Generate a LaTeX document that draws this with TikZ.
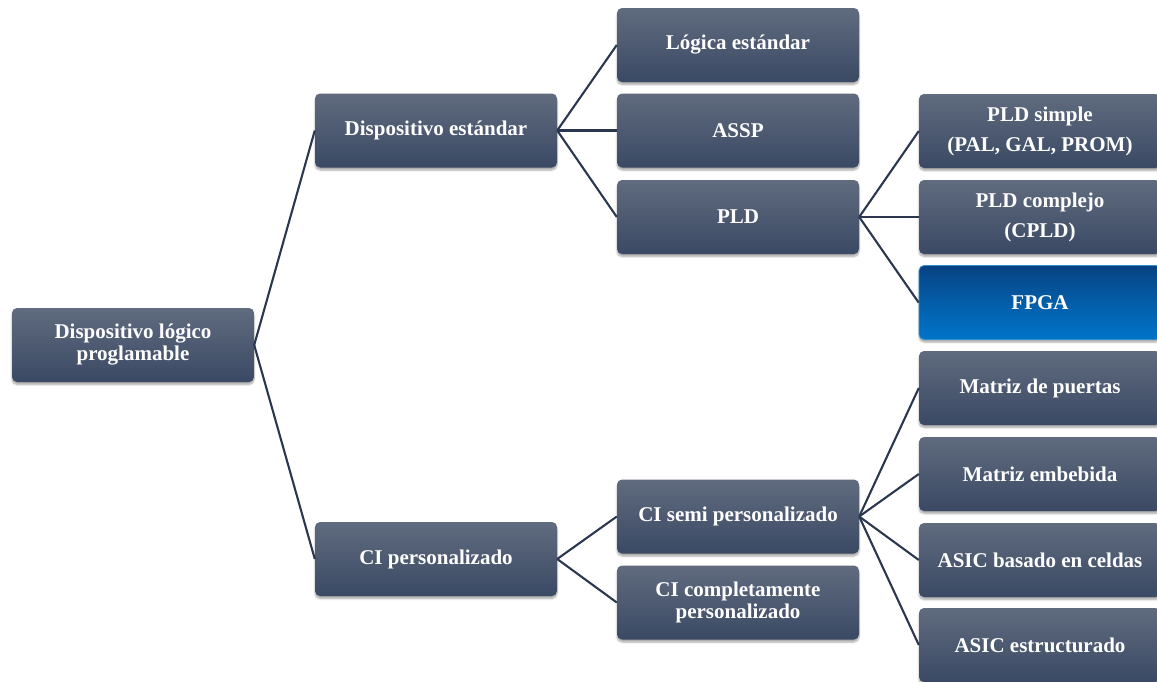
\documentclass[tikz,border=0pt]{standalone}
\usepackage{fontspec}
\setmainfont{Liberation Serif}
\usetikzlibrary{shadows.blur}
\definecolor{boxtop}{RGB}{96,107,126}
\definecolor{boxbot}{RGB}{58,73,100}
\definecolor{linkcol}{RGB}{42,55,78}
\definecolor{fpgatl}{RGB}{8,66,130}
\definecolor{fpgabr}{RGB}{0,116,200}
\tikzset{
  boxnode/.style={minimum width=242pt, minimum height=74pt, rounded corners=5pt,
    top color=boxtop, bottom color=boxbot, draw=none, text=white, align=center,
    inner sep=2pt,
    font=\bfseries\fontsize{21}{22}\selectfont,
    blur shadow={shadow xshift=0pt, shadow yshift=-2.5pt, shadow blur steps=6, shadow opacity=35}},
  widebox/.style={boxnode, font=\bfseries\fontsize{21}{30}\selectfont},
  bluebox/.style={boxnode, shading=axis, shading angle=-45, top color=fpgatl, bottom color=fpgabr, middle color=fpgabr!55!fpgatl, draw=fpgabr!80!white, line width=0.8pt},
  link/.style={draw=linkcol, line width=2.1pt}
}
\begin{document}
\begin{tikzpicture}[x=1pt,y=-1pt]
\useasboundingbox (0,0) rectangle (1157,681);
\clip (0,0) rectangle (1157,681);
% nodes
\node[boxnode] (root) at (133,345) {Dispositivo lógico\\proglamable};
\node[boxnode] (dstd) at (436,130.5) {Dispositivo estándar};
\node[boxnode] (cip) at (436,559) {CI personalizado};
\node[boxnode] (log) at (738,45) {Lógica estándar};
\node[boxnode] (assp) at (738,130.5) {ASSP};
\node[boxnode] (pld) at (738,217) {PLD};
\node[boxnode] (cisemi) at (738,516.5) {CI semi personalizado};
\node[boxnode] (cicomp) at (738,602.5) {CI completamente\\personalizado};
\node[widebox] (plds) at (1040,131) {PLD simple\\(PAL, GAL, PROM)};
\node[widebox] (cplds) at (1040,217) {PLD complejo\\(CPLD)};
\node[bluebox] (fpga) at (1040,302.5) {FPGA};
\node[boxnode] (mp) at (1040,388) {Matriz de puertas};
\node[boxnode] (me) at (1040,474) {Matriz embebida};
\node[boxnode] (abc) at (1040,560) {ASIC basado en celdas};
\node[boxnode] (ae) at (1040,645) {ASIC estructurado};
% connectors
\draw[link] (root.east) -- (dstd.west);
\draw[link] (root.east) -- (cip.west);
\draw[link] (dstd.east) -- (log.west);
\draw[link] (dstd.east) -- (assp.west);
\draw[link] (dstd.east) -- (pld.west);
\draw[link] (pld.east) -- (plds.west);
\draw[link] (pld.east) -- (cplds.west);
\draw[link] (pld.east) -- (fpga.west);
\draw[link] (cip.east) -- (cisemi.west);
\draw[link] (cip.east) -- (cicomp.west);
\draw[link] (cisemi.east) -- (mp.west);
\draw[link] (cisemi.east) -- (me.west);
\draw[link] (cisemi.east) -- (abc.west);
\draw[link] (cisemi.east) -- (ae.west);
\end{tikzpicture}
\end{document}
